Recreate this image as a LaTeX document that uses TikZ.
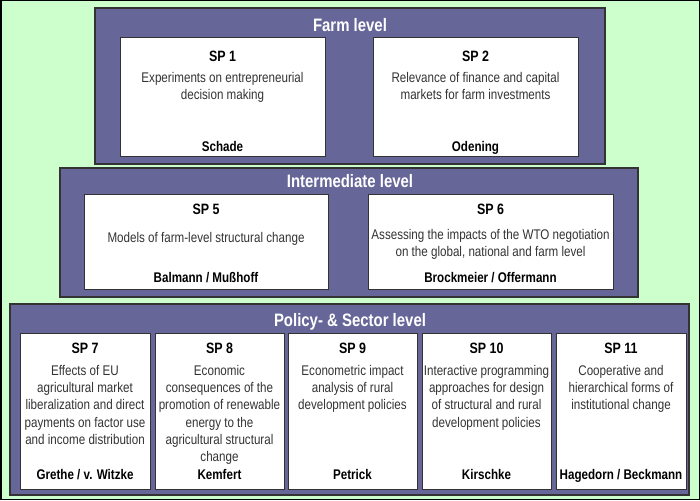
\documentclass[tikz,border=0pt]{standalone}
\usepackage{fontspec}
\setmainfont[FakeStretch=0.83]{Liberation Sans}
\definecolor{bggreen}{HTML}{CCFFCC}
\definecolor{panelblue}{HTML}{666699}
\definecolor{edgegray}{HTML}{333333}
\definecolor{bodygray}{HTML}{333333}
\tikzset{
  panel/.style={draw=edgegray, line width=1.5pt, fill=panelblue, anchor=north west, inner sep=0pt, outer sep=0pt},
  spbox/.style={draw=edgegray, line width=1pt, fill=white, anchor=north west, inner sep=0pt, outer sep=0pt},
  leveltitle/.style={anchor=base, inner sep=0pt, text=white, font=\fontsize{18}{20}\selectfont\bfseries},
  sphead/.style={anchor=base, inner sep=0pt, font=\fontsize{15}{17}\selectfont\bfseries},
  sptext/.style={anchor=north, inner sep=0pt, align=center, text=bodygray, font=\fontsize{14}{17.3}\selectfont},
  spname/.style={anchor=base, inner sep=0pt, font=\fontsize{14}{16}\selectfont\bfseries}
}
\begin{document}
\begin{tikzpicture}[x=1pt,y=-1pt]
          \useasboundingbox (0,0) rectangle (700,500);
          \fill[bggreen] (0,0) rectangle (700,500);
          \draw[black, line width=1.5pt] (0.75,0.75) rectangle (699.25,499.25);
          % farm level
          \node[panel, minimum width=510pt, minimum height=156pt] (farm) at (95,8) {};
          \node[leveltitle] (farmtitle) at (350,31.5) {Farm level};
          \node[spbox, minimum width=205pt, minimum height=118pt] (sp1) at (120,38) {};
          \node[spbox, minimum width=205pt, minimum height=118pt] (sp2) at (373,38) {};
          \node[sphead] (sp1head) at (222.5,61.4) {SP 1};
          \node[sptext] (sp1text) at (222.5,72) {Experiments on entrepreneurial\\decision making};
          \node[spname] (sp1name) at (222.5,151) {Schade};
          \node[sphead] (sp2head) at (475.5,61.4) {SP 2};
          \node[sptext] (sp2text) at (475.5,72) {Relevance of finance and capital\\markets for farm investments};
          \node[spname] (sp2name) at (475.5,151) {Odening};
          % intermediate level
          \node[panel, minimum width=578pt, minimum height=129pt] (inter) at (60,168) {};
          \node[leveltitle] (intertitle) at (350,187.5) {Intermediate level};
          \node[spbox, minimum width=244pt, minimum height=95pt] (sp5) at (84,194) {};
          \node[spbox, minimum width=245pt, minimum height=95pt] (sp6) at (368,194) {};
          \node[sphead] (sp5head) at (206,214) {SP 5};
          \node[sptext] (sp5text) at (206,232) {Models of farm-level structural change};
          \node[spname] (sp5name) at (206,282) {Balmann / Mußhoff};
          \node[sphead] (sp6head) at (490.5,214) {SP 6};
          \node[sptext] (sp6text) at (490.5,229) {Assessing the impacts of the WTO negotiation\\on the global, national and farm level};
          \node[spname] (sp6name) at (490.5,282) {Brockmeier / Offermann};
          % policy- & sector level
          \node[panel, minimum width=679pt, minimum height=191pt] (policy) at (10,304) {};
          \node[leveltitle] (policytitle) at (350,326.5) {Policy- \& Sector level};
          \node[spbox, minimum width=130pt, minimum height=156pt] (sp7) at (20,333) {};
          \node[spbox, minimum width=129pt, minimum height=156pt] (sp8) at (155,333) {};
          \node[spbox, minimum width=129pt, minimum height=156pt] (sp9) at (288,333) {};
          \node[spbox, minimum width=129pt, minimum height=156pt] (sp10) at (422,333) {};
          \node[spbox, minimum width=130pt, minimum height=156pt] (sp11) at (556,333) {};
          \node[sphead] (sp7head) at (85,353.4) {SP 7};
          \node[sptext] (sp7text) at (85,365) {Effects of EU\\agricultural market\\liberalization and direct\\payments on factor use\\and income distribution};
          \node[spname] (sp7name) at (85,479) {Grethe / v. Witzke};
          \node[sphead] (sp8head) at (219.5,353.4) {SP 8};
          \node[sptext] (sp8text) at (219.5,365) {Economic\\consequences of the\\promotion of renewable\\energy to the\\agricultural structural\\change};
          \node[spname] (sp8name) at (219.5,479) {Kemfert};
          \node[sphead] (sp9head) at (352.5,353.4) {SP 9};
          \node[sptext] (sp9text) at (352.5,365) {Econometric impact\\analysis of rural\\development policies};
          \node[spname] (sp9name) at (352.5,479) {Petrick};
          \node[sphead] (sp10head) at (486.5,353.4) {SP 10};
          \node[sptext] (sp10text) at (486.5,365) {Interactive programming\\approaches for design\\of structural and rural\\development policies};
          \node[spname] (sp10name) at (486.5,479) {Kirschke};
          \node[sphead] (sp11head) at (621,353.4) {SP 11};
          \node[sptext] (sp11text) at (621,365) {Cooperative and\\hierarchical forms of\\institutional change};
          \node[spname] (sp11name) at (621,479) {Hagedorn / Beckmann};
         \end{tikzpicture}
\end{document}
